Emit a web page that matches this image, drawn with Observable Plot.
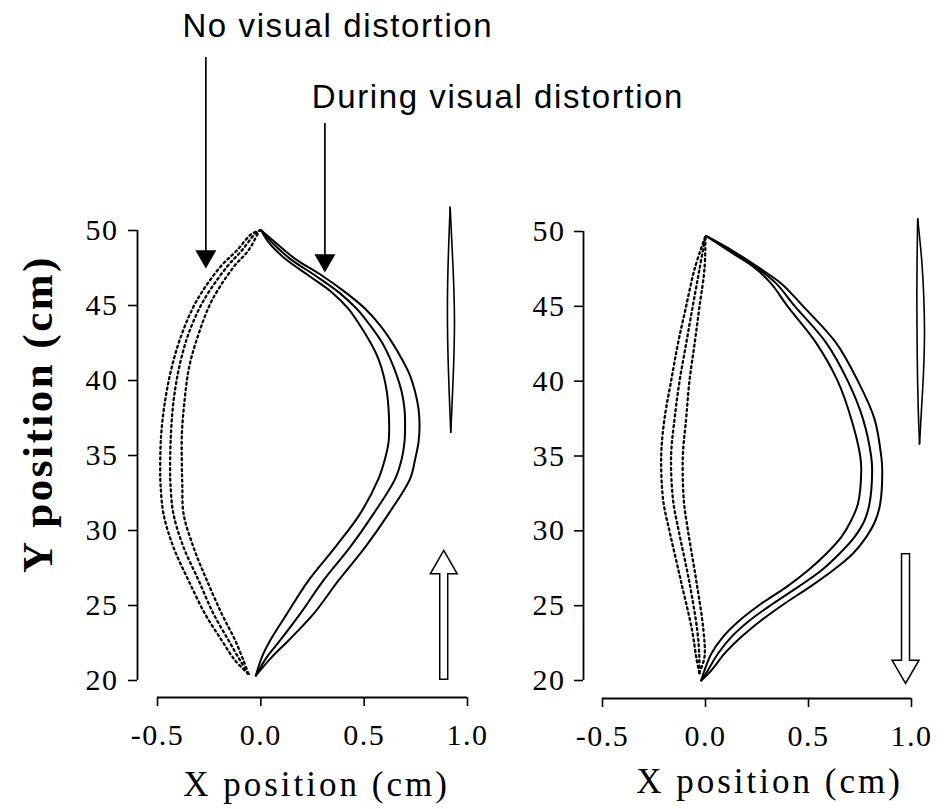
<!DOCTYPE html>
<html><head><meta charset="utf-8">
<script src="https://cdn.jsdelivr.net/npm/d3@7"></script>
<script src="https://cdn.jsdelivr.net/npm/@observablehq/plot@0.6"></script>
<style>
html,body{margin:0;padding:0;background:#fff;}
#chart{position:relative;width:946px;height:809px;overflow:hidden;}
#chart svg{position:absolute;left:0;top:0;}
</style></head><body><div id="chart"></div>
<script>
// ---- axes ----
const xDomain = [-0.5, 1.0];
const yDomain = [20, 50];
const xTicks = [-0.5, 0.0, 0.5, 1.0];
const yTicks = [20, 25, 30, 35, 40, 45, 50];
const xTitle = "X position (cm)";
const yTitle = "Y position (cm)";

// ---- left panel: upward movement ----
const leftSolidY = [20.33, 21.56, 22.67, 24.44, 26.67, 28.89, 31.11, 33.44, 34.78, 35.89, 37.0, 38.11, 39.22, 40.33, 41.44, 42.56, 43.67, 44.78, 45.89, 47.0, 48.11, 49.22, 50.0];
const leftSolidA = [-0.024, 0.005, 0.045, 0.126, 0.231, 0.36, 0.48, 0.569, 0.601, 0.618, 0.621, 0.618, 0.61, 0.594, 0.569, 0.529, 0.48, 0.424, 0.343, 0.231, 0.118, 0.037, 0.003];
const leftSolidB = [-0.024, 0.029, 0.093, 0.19, 0.303, 0.432, 0.545, 0.65, 0.682, 0.695, 0.698, 0.695, 0.682, 0.658, 0.626, 0.585, 0.529, 0.464, 0.376, 0.263, 0.142, 0.053, 0.003];
const leftSolidC = [-0.024, 0.053, 0.134, 0.255, 0.376, 0.505, 0.618, 0.722, 0.747, 0.763, 0.768, 0.763, 0.747, 0.722, 0.682, 0.634, 0.577, 0.505, 0.408, 0.295, 0.166, 0.069, 0.003];

const leftDotY = [20.44, 21.33, 22.67, 24.44, 26.67, 28.89, 31.11, 33.0, 34.22, 36.44, 38.67, 40.89, 43.11, 45.33, 47.56, 48.67, 49.78, 50.0];
const leftDotA = [-0.06, -0.124, -0.189, -0.27, -0.35, -0.423, -0.471, -0.485, -0.487, -0.482, -0.463, -0.431, -0.382, -0.31, -0.197, -0.116, -0.044, -0.005];
const leftDotB = [-0.06, -0.1, -0.156, -0.229, -0.301, -0.374, -0.423, -0.437, -0.439, -0.435, -0.422, -0.395, -0.35, -0.277, -0.165, -0.092, -0.028, -0.005];
const leftDotC = [-0.06, -0.084, -0.124, -0.189, -0.261, -0.326, -0.374, -0.38, -0.382, -0.382, -0.369, -0.347, -0.301, -0.237, -0.132, -0.06, -0.015, -0.005];

const leftLensY = [51.55, 49, 46.5, 44, 41.5, 39, 36.55];
const leftLensR = [0.916, 0.925, 0.933, 0.937, 0.934, 0.927, 0.919];
const leftLensL = [0.916, 0.909, 0.904, 0.903, 0.906, 0.912, 0.919];

const leftMove = [{x: 0.885, tail: 20.0, tip: 28.67, dir: "up"}];

// ---- right panel: downward movement ----
const rightSolidY = [20.0, 20.67, 21.79, 22.9, 24.01, 25.13, 26.24, 27.35, 28.47, 29.58, 30.69, 31.81, 34.03, 35.0, 37.5, 40.0, 42.56, 45.06, 46.5, 47.62, 48.73, 49.7];
const rightSolidA = [-0.021, -0.005, 0.028, 0.084, 0.165, 0.27, 0.392, 0.497, 0.586, 0.659, 0.707, 0.74, 0.756, 0.751, 0.707, 0.642, 0.537, 0.395, 0.32, 0.235, 0.11, 0.003];
const rightSolidB = [-0.021, 0.011, 0.06, 0.125, 0.214, 0.327, 0.448, 0.562, 0.65, 0.723, 0.772, 0.796, 0.809, 0.804, 0.764, 0.691, 0.586, 0.43, 0.345, 0.245, 0.12, 0.003];
const rightSolidC = [-0.021, 0.028, 0.092, 0.173, 0.27, 0.383, 0.505, 0.618, 0.715, 0.78, 0.825, 0.848, 0.858, 0.853, 0.82, 0.74, 0.634, 0.47, 0.37, 0.255, 0.13, 0.003];

const rightDotY = [20.5, 21.56, 23.35, 26.69, 30.0, 32.0, 35.0, 37.5, 40.0, 42.5, 45.0, 47.5, 49.7];
const rightDotA = [-0.03, -0.045, -0.065, -0.12, -0.175, -0.205, -0.215, -0.199, -0.167, -0.134, -0.094, -0.053, 0.0];
const rightDotB = [-0.03, -0.03, -0.04, -0.08, -0.13, -0.157, -0.167, -0.15, -0.126, -0.094, -0.062, -0.029, 0.0];
const rightDotC = [-0.03, -0.005, -0.01, -0.045, -0.085, -0.105, -0.11, -0.094, -0.078, -0.053, -0.029, -0.005, 0.0];

const rightLensY = [50.85, 48, 45.5, 43, 40.5, 38, 35.8];
const rightLensR = [1.03, 1.05, 1.06, 1.063, 1.058, 1.048, 1.039];
const rightLensL = [1.03, 1.027, 1.026, 1.027, 1.029, 1.033, 1.039];

const rightMove = [{x: 0.971, tail: 28.49, tip: 19.8, dir: "down"}];

// ---- annotations (left panel data units) ----
const labelTexts = ["No visual distortion", "During visual distortion"];
const labelX = [0.3725, 1.147];
const labelY = [62.93, 58.18];
const pointerX = [-0.266, 0.31];
const pointerTop = [61.53, 57.13];
const pointerTip = [47.47, 47.2];

// ---- helpers ----
const series = (ys, xs, id) => ys.map((y, i) => ({x: xs[i], y, id}));
const W = 946, H = 809;

function panel(cfg) {
  const solid = [...series(cfg.solidY, cfg.solid[0], "a"), ...series(cfg.solidY, cfg.solid[1], "b"), ...series(cfg.solidY, cfg.solid[2], "c")];
  const dotted = [...series(cfg.dotY, cfg.dot[0], "a"), ...series(cfg.dotY, cfg.dot[1], "b"), ...series(cfg.dotY, cfg.dot[2], "c")];
  const lens = [...series(cfg.lensY, cfg.lens[0], "l"), ...series(cfg.lensY, cfg.lens[1], "r")];
  const frameBottom = H - cfg.marginBottom;
  const headH = 23.3, headOff = 15.55;
  const up = cfg.move.filter(d => d.dir === "up");
  const down = cfg.move.filter(d => d.dir === "down");
  const marks = [
    // axis lines
    Plot.ruleX([xDomain[0]], {y1: yDomain[1], y2: yDomain[0], dx: cfg.marginLeft - cfg.xRange[0], strokeWidth: 1.8}),
    Plot.ruleY([yDomain[0]], {x1: xDomain[0], x2: xDomain[1], dy: frameBottom - cfg.yRange[0], strokeWidth: 1.8}),
    // trajectories
    Plot.line(dotted, {x: "x", y: "y", z: "id", curve: "catmull-rom", stroke: "black", strokeWidth: 2.3, strokeDasharray: "2,3.4"}),
    Plot.line(solid, {x: "x", y: "y", z: "id", curve: "catmull-rom", stroke: "black", strokeWidth: 2}),
    Plot.line(lens, {x: "x", y: "y", z: "id", curve: "catmull-rom", stroke: "black", strokeWidth: 1.6}),
    // hollow movement-direction arrows (y1 = upper end, y2 = lower end)
    Plot.ruleX(up, {x: "x", y1: "tip", y2: "tail", strokeWidth: 9.5, insetTop: headH}),
    Plot.dot(up, {x: "x", y: "tip", symbol: "triangle", r: 10, fill: "white", stroke: "black", strokeWidth: 1.5, dy: headOff}),
    Plot.ruleX(up, {x: "x", y1: "tip", y2: "tail", strokeWidth: 6.5, stroke: "white", insetTop: headH - 2, insetBottom: 1.5}),
    Plot.ruleX(down, {x: "x", y1: "tail", y2: "tip", strokeWidth: 9.5, insetBottom: headH}),
    Plot.dot(down, {x: "x", y: "tip", symbol: "triangle", r: 10, rotate: 180, fill: "white", stroke: "black", strokeWidth: 1.5, dy: -headOff}),
    Plot.ruleX(down, {x: "x", y1: "tail", y2: "tip", strokeWidth: 6.5, stroke: "white", insetBottom: headH - 2, insetTop: 1.5}),
    // x title
    Plot.text([xTitle], {frameAnchor: "bottom", textAnchor: "middle", lineAnchor: "bottom", dx: cfg.xTitleDx, dy: cfg.xTitleDy, fontSize: 35, ariaDescription: "xtitle"}),
  ];
  if (cfg.yTitle) {
    marks.push(Plot.text([yTitle], {frameAnchor: "left", textAnchor: "middle", rotate: -90, dx: -99, dy: -50, fontSize: 43, fontWeight: "bold", ariaDescription: "ytitle"}));
  }
  if (cfg.annotations) {
    const ann = labelTexts.map((t, i) => ({t, x: labelX[i], y: labelY[i], px: pointerX[i], top: pointerTop[i], tip: pointerTip[i]}));
    marks.push(
      Plot.ruleX(ann, {x: "px", y1: "top", y2: "tip", strokeWidth: 1.7, insetBottom: 10}),
      Plot.dot(ann, {x: "px", y: "tip", symbol: "triangle", r: 7.8, rotate: 180, fill: "black", stroke: null, dy: -12.1}),
      Plot.text(ann, {x: "x", y: "y", text: "t", lineAnchor: "bottom", fontFamily: "Liberation Sans, Arial, sans-serif", fontSize: 33, ariaDescription: "annot"})
    );
  }
  const svg = Plot.plot({
    width: W, height: H,
    marginLeft: cfg.marginLeft, marginTop: cfg.yRange[1], marginBottom: cfg.marginBottom, marginRight: W - cfg.xRange[1],
    x: {domain: xDomain, range: cfg.xRange, ticks: xTicks, tickFormat: d => d.toFixed(1), tickSize: 9, tickPadding: 17, label: null},
    y: {domain: yDomain, range: cfg.yRange, ticks: yTicks, tickFormat: d => String(d), tickSize: 9, tickPadding: cfg.yPad, label: null},
    style: {background: "transparent", color: "black", fontFamily: "Liberation Serif, Times New Roman, serif", fontSize: "30px", overflow: "visible"},
    marks
  });
  const s = d3.select(svg);
  s.selectAll('g[aria-label$="tick label"] text, g[aria-label="x-axis"] text, g[aria-label="y-axis"] text').attr("letter-spacing", "1.5px");
  s.selectAll('g[aria-label$="axis tick"] path').attr("stroke-width", 1.6);
  s.selectAll('g[aria-description="xtitle"] text').attr("letter-spacing", "3px");
  s.selectAll('g[aria-description="ytitle"] text').attr("letter-spacing", "2.5px");
  s.selectAll('g[aria-description="annot"] text').attr("letter-spacing", "1.6px");
  return svg;
}

const chart = document.getElementById("chart");
chart.appendChild(panel({
  xRange: [157, 467], yRange: [680, 230], marginLeft: 137, marginBottom: H - 697, yPad: 10,
  solidY: leftSolidY, solid: [leftSolidA, leftSolidB, leftSolidC],
  dotY: leftDotY, dot: [leftDotA, leftDotB, leftDotC],
  lensY: leftLensY, lens: [leftLensL, leftLensR],
  move: leftMove, xTitleDx: 14, xTitleDy: 98, yTitle: true, annotations: true
}));
chart.appendChild(panel({
  xRange: [602, 911], yRange: [680, 231], marginLeft: 583, marginBottom: H - 698, yPad: 9,
  solidY: rightSolidY, solid: [rightSolidA, rightSolidB, rightSolidC],
  dotY: rightDotY, dot: [rightDotA, rightDotB, rightDotC],
  lensY: rightLensY, lens: [rightLensL, rightLensR],
  move: rightMove, xTitleDx: 22, xTitleDy: 94, yTitle: false, annotations: false
}));
</script></body></html>
